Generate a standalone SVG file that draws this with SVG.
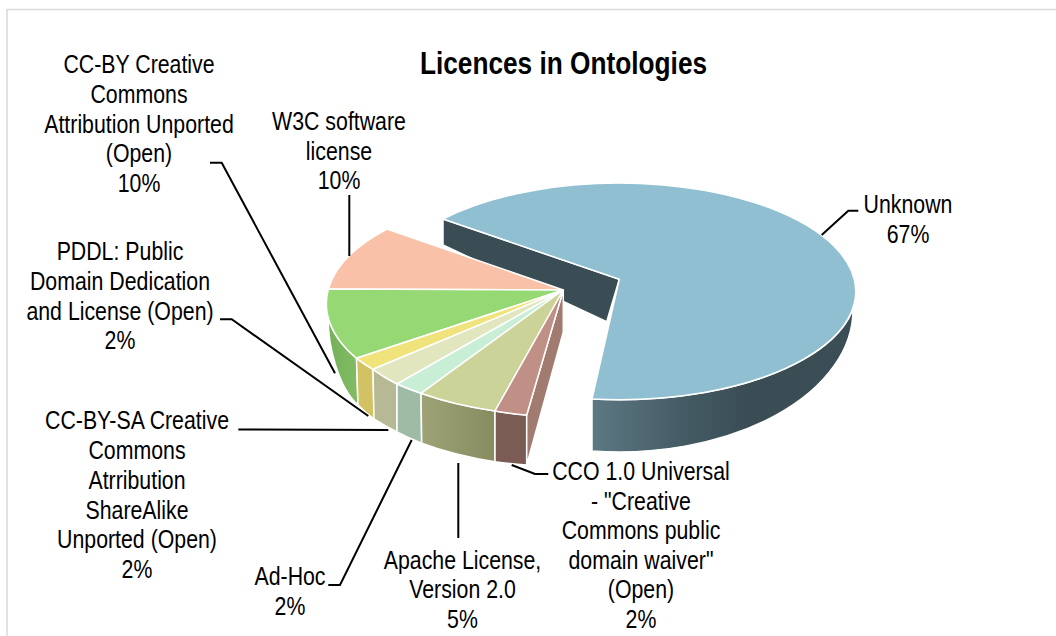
<svg xmlns="http://www.w3.org/2000/svg" width="1056" height="636" viewBox="0 0 1056 636">
<defs>
<style>
.face{stroke:#fff;stroke-width:1.5;stroke-linejoin:round}
.lbl{font-family:"Liberation Sans",Arial,sans-serif;font-size:26px;fill:#000;text-anchor:middle}
.title{font-family:"Liberation Sans",Arial,sans-serif;font-size:32px;font-weight:bold;fill:#000;text-anchor:middle}
.lead{fill:none;stroke:#000;stroke-width:2}
</style>
<linearGradient id="gUnk" gradientUnits="userSpaceOnUse" x1="592" y1="0" x2="856" y2="0">
<stop offset="0" stop-color="#5c7883"/>
<stop offset="0.35" stop-color="#445b64"/>
<stop offset="0.6" stop-color="#3a4c54"/>
<stop offset="1" stop-color="#3b4e56"/>
</linearGradient>
<linearGradient id="gOlive" gradientUnits="userSpaceOnUse" x1="421" y1="0" x2="495" y2="0">
<stop offset="0" stop-color="#9ea478"/>
<stop offset="1" stop-color="#878b5f"/>
</linearGradient>
<linearGradient id="gGreen" gradientUnits="userSpaceOnUse" x1="328" y1="0" x2="358" y2="0">
<stop offset="0" stop-color="#74b058"/>
<stop offset="1" stop-color="#82bd64"/>
</linearGradient>
</defs>
<rect x="0" y="0" width="1056" height="636" fill="#fff"/>
<rect x="7" y="9.5" width="1100" height="700" fill="none" stroke="#d9d9d9" stroke-width="1.5"/>
<text class="title" transform="translate(563.5,0) scale(0.82,1)"><tspan x="0" y="74">Licences in Ontologies</tspan></text>

<g id="slice-unknown">
<path class="face" fill="url(#gUnk)" d="M592 399 A236.7 108.3 0 0 0 856 291.3 L853 310 A234 142 0 0 1 592 451 Z"/>
<path class="face" fill="#3a4d55" d="M619.3 279.3 L443 219 L443 245 L606.7 321.7 Z"/>
<path class="face" fill="#8fbfd1" d="M619.3 279.3 L443 219 A236.7 108.3 0 1 1 592 399 Z"/>
</g>
<g id="slice-w3c">
<path class="face" fill="#f9c2a8" d="M563.3 290 L387 229 A237 112 0 0 0 328.4 289 Z"/>
</g>
<g id="slice-ccby">
<path class="face" fill="url(#gGreen)" d="M328.1 318 A237 112 0 0 0 356.5 358.3 L358 405 C338 387 328 345 328.1 318 Z"/>
<path class="face" fill="#96d874" d="M563.3 290 L328.4 289 A237 112 0 0 0 356.5 358.3 Z"/>
</g>
<g id="slice-pddl">
<path class="face" fill="#d2c264" d="M356.5 358.3 A237 112 0 0 0 373 369.3 L374 419 A236 122 0 0 1 358 405 Z"/>
<path class="face" fill="#f0e37b" d="M563.3 290 L356.5 358.3 A237 112 0 0 0 373 369.3 Z"/>
</g>
<g id="slice-ccbysa">
<path class="face" fill="#b7b995" d="M373 369.3 A237 112 0 0 0 397 384 L397 432 A236 122 0 0 1 374 419 Z"/>
<path class="face" fill="#e2e6bf" d="M563.3 290 L373 369.3 A237 112 0 0 0 397 384 Z"/>
</g>
<g id="slice-adhoc">
<path class="face" fill="#9dbba5" d="M397 384 A237 112 0 0 0 421 393.3 L421.7 443.3 A236 122 0 0 1 397 432 Z"/>
<path class="face" fill="#c8eed5" d="M563.3 290 L397 384 A237 112 0 0 0 421 393.3 Z"/>
</g>
<g id="slice-apache">
<path class="face" fill="url(#gOlive)" d="M421 393.3 A237 112 0 0 0 495 411 L495 461.7 A236 122 0 0 1 421.7 443.3 Z"/>
<path class="face" fill="#cbd398" d="M563.3 290 L421 393.3 A237 112 0 0 0 495 411 Z"/>
</g>
<g id="slice-cco">
<path class="face" fill="#7a5c54" d="M495 411 A237 112 0 0 0 526.7 415 L526.7 465 A236 122 0 0 1 495 461.7 Z"/>
<path class="face" fill="#a27b70" d="M526.7 415 L563.3 290 L563.3 332 L526.7 465 Z"/>
<path class="face" fill="#c08f85" d="M563.3 290 L495 411 A237 112 0 0 0 526.7 415 Z"/>
</g>

<g id="connectors">
<polyline class="lead" points="821.7,235 848.3,210.7 858.3,210.7"/>
<polyline class="lead" points="210,162.7 221.7,162.7 335,373.3"/>
<polyline class="lead" points="349.3,195 349.3,256"/>
<polyline class="lead" points="220,319.3 231.7,319.3 368.3,416"/>
<polyline class="lead" points="238.3,429.5 388.3,430"/>
<polyline class="lead" points="328.3,585 340,585 411.7,440"/>
<polyline class="lead" points="458.3,463 458.3,538"/>
<polyline class="lead" points="511.7,465 535,474 548.3,474"/>
</g>

<g id="label-unknown"><text class="lbl" transform="translate(908,0) scale(0.82,1)"><tspan x="0" y="213">Unknown</tspan><tspan x="0" y="242.6">67%</tspan></text></g>
<g id="label-ccby"><text class="lbl" transform="translate(139,0) scale(0.82,1)"><tspan x="0" y="73.5">CC-BY Creative</tspan><tspan x="0" y="103.1">Commons</tspan><tspan x="0" y="132.7">Attribution Unported</tspan><tspan x="0" y="162.3">(Open)</tspan><tspan x="0" y="191.9">10%</tspan></text></g>
<g id="label-w3c"><text class="lbl" transform="translate(339,0) scale(0.82,1)"><tspan x="0" y="130.5">W3C software</tspan><tspan x="0" y="160">license</tspan><tspan x="0" y="189.5">10%</tspan></text></g>
<g id="label-pddl"><text class="lbl" transform="translate(120,0) scale(0.82,1)"><tspan x="0" y="260.5">PDDL: Public</tspan><tspan x="0" y="290.1">Domain Dedication</tspan><tspan x="0" y="319.7">and License (Open)</tspan><tspan x="0" y="349.3">2%</tspan></text></g>
<g id="label-ccbysa"><text class="lbl" transform="translate(137,0) scale(0.82,1)"><tspan x="0" y="429.5">CC-BY-SA Creative</tspan><tspan x="0" y="459.2">Commons</tspan><tspan x="0" y="488.9">Atrribution</tspan><tspan x="0" y="518.6">ShareAlike</tspan><tspan x="0" y="548.3">Unported (Open)</tspan><tspan x="0" y="578">2%</tspan></text></g>
<g id="label-adhoc"><text class="lbl" transform="translate(290,0) scale(0.82,1)"><tspan x="0" y="585">Ad-Hoc</tspan><tspan x="0" y="614.6">2%</tspan></text></g>
<g id="label-apache"><text class="lbl" transform="translate(462.5,0) scale(0.82,1)"><tspan x="0" y="568.7">Apache License,</tspan><tspan x="0" y="598.3">Version 2.0</tspan><tspan x="0" y="627.9">5%</tspan></text></g>
<g id="label-cco"><text class="lbl" transform="translate(641,0) scale(0.82,1)"><tspan x="0" y="480">CCO 1.0 Universal</tspan><tspan x="0" y="509.6">- "Creative</tspan><tspan x="0" y="539.2">Commons public</tspan><tspan x="0" y="568.8">domain waiver"</tspan><tspan x="0" y="598.4">(Open)</tspan><tspan x="0" y="628">2%</tspan></text></g>
</svg>
